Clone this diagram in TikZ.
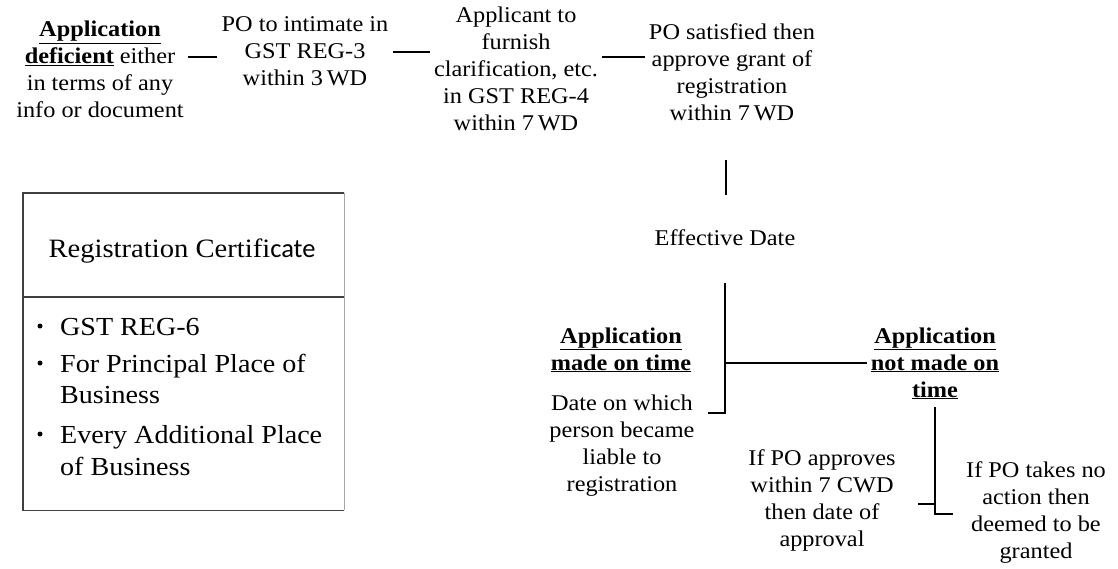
\documentclass[tikz,border=0pt]{standalone}
\usepackage{fontspec}
\setmainfont{Liberation Serif}[FakeStretch=1.08]
\newfontfamily\calibrisub{Carlito}
% multi-line centred label whose baseline is that of its first line
\newcommand{\mlines}[1]{\begin{tabular}[t]{@{}c@{}}#1\end{tabular}}
\newcommand{\hd}[1]{\underline{\textbf{#1}}}
\begin{document}
\begin{tikzpicture}[x=1pt,y=-1pt,
  lbl/.style={inner sep=4pt, anchor=base, font=\fontsize{22.5}{27}\selectfont},
  link/.style={line width=1.2pt, black},
  boxedge/.style={line width=1.1pt, black!75},
  bul/.style={anchor=base west, inner sep=0pt, font=\fontsize{26}{31.5}\selectfont},
  dot/.style={circle, fill=black, inner sep=0pt, minimum size=5pt}]
\useasboundingbox (0,0) rectangle (1118,569);

% top row of steps
\node[lbl] (nA) at (100,37) {\mlines{\hd{Application}\\\hd{deficient} either\\in terms of any\\info or document}};
\node[lbl] (nB) at (305,32) {\mlines{PO to intimate in\\GST REG-3\\within 3\,WD}};
\node[lbl] (nC) at (516,23) {\mlines{Applicant to\\furnish\\clarification, etc.\\in GST REG-4\\within 7\,WD}};
\node[lbl] (nD) at (732,40) {\mlines{PO satisfied then\\approve grant of\\registration\\within 7\,WD}};

\draw[link] (nA.east |- 0,57) -- (nB.west |- 0,57);
\draw[link] (nB.east |- 0,52) -- (nC.west |- 0,52);
\draw[link] (nC.east |- 0,57) -- (nD.west |- 0,57);

% effective date and its two cases
\node[lbl] (eff) at (725,245) {Effective Date};
\coordinate (u1) at (726,160);
\coordinate (u2) at (726,195);
\draw[link] (u1) -- (u2);

\node[lbl] (nOnTime) at (621,343) {\mlines{\hd{Application}\\\hd{made on time}}};
\node[lbl] (nDate) at (622,410) {\mlines{Date on which\\person became\\liable to\\registration}};
\node[lbl] (nLate) at (935,343) {\mlines{\hd{Application}\\\hd{not made on}\\\hd{time}}};

\coordinate (jTop) at (725,283);
\coordinate (jMid) at (725,363);
\coordinate (jBot) at (725,413);
\draw[link] (jTop) -- (jBot) -- ++(-17,0);
\draw[link] (jMid) -- (nLate.west |- jMid);

\node[lbl] (nApprove) at (822,465) {\mlines{If PO approves\\within 7 CWD\\then date of\\approval}};
\node[lbl] (nNoAct) at (1036,477) {\mlines{If PO takes no\\action then\\deemed to be\\granted}};

\coordinate (k0) at (935,407);
\coordinate (kL) at (935,504);
\coordinate (kB) at (935,514);
\draw[link] (k0) -- (kB) -- ++(18,0);
\draw[link] (kL) -- ++(-17,0);

% registration certificate box
\node[minimum width=321pt, minimum height=317pt, inner sep=0pt, anchor=north west] (cert) at (23,193) {};
\draw[boxedge] (cert.north east) -- (cert.north west) -- (cert.south west) -- (cert.south east);
\draw[boxedge, black!35] (cert.north east) -- (cert.south east);
\draw[boxedge] (cert.west |- 0,297) -- (cert.east |- 0,297);

\node[anchor=base, inner sep=0pt, font=\fontsize{26.5}{30}\selectfont] (title) at (182,258) {Registration Certifi{\calibrisub cate}};

\node[dot] (d1) at (40,326) {};
\node[bul] (b1) at (60,335) {GST REG-6};
\node[dot] (d2) at (40,363) {};
\node[bul] (b2) at (60,372) {For Principal Place of};
\node[bul] (b2b) at (60,403) {Business};
\node[dot] (d3) at (40,434) {};
\node[bul] (b3) at (60,443) {Every Additional Place};
\node[bul] (b3b) at (60,475) {of Business};
\end{tikzpicture}
\end{document}
